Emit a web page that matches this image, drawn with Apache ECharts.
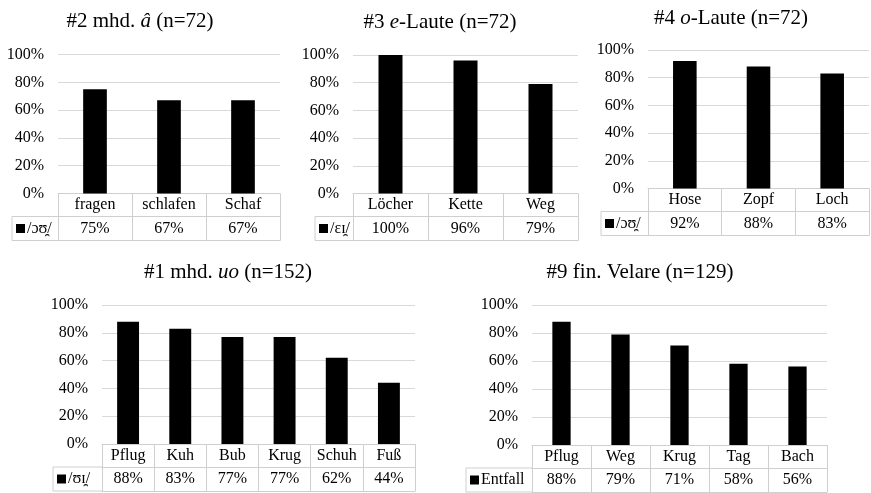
<!DOCTYPE html>
<html>
<head>
<meta charset="utf-8">
<script src="https://cdn.jsdelivr.net/npm/echarts@6/dist/echarts.min.js"></script>
<style>
html,body{margin:0;padding:0;background:#fff;}
#c{width:871px;height:493px;}
</style>
</head>
<body>
<div id="c"></div>
<script>
// ---- data ----
const titles = [
  '#2 mhd. {i|â} (n=72)',
  '#3 {i|e}-Laute (n=72)',
  '#4 {i|o}-Laute (n=72)',
  '#1 mhd. {i|uo} (n=152)',
  '#9 fin. Velare (n=129)'
];
const seriesNames = ['/ɔʊ̯/', '/ɛɪ̯/', '/ɔʊ̯/', '/ʊɪ̯/', 'Entfall'];
const cats2 = ['fragen', 'schlafen', 'Schaf'];
const vals2 = [0.75, 0.67, 0.67];
const cats3 = ['Löcher', 'Kette', 'Weg'];
const vals3 = [1.00, 0.96, 0.79];
const cats4 = ['Hose', 'Zopf', 'Loch'];
const vals4 = [0.92, 0.88, 0.83];
const cats1 = ['Pflug', 'Kuh', 'Bub', 'Krug', 'Schuh', 'Fuß'];
const vals1 = [0.88, 0.83, 0.77, 0.77, 0.62, 0.44];
const cats9 = ['Pflug', 'Weg', 'Krug', 'Tag', 'Bach'];
const vals9 = [0.88, 0.79, 0.71, 0.58, 0.56];
const yTicks = [0, 0.2, 0.4, 0.6, 0.8, 1.0];

const allCats = [cats2, cats3, cats4, cats1, cats9];
const allVals = [vals2, vals3, vals4, vals1, vals9];

// ---- layout (pixels) ----
const layout = [
  {x0: 58,  x1: 280, yT: 54.5, y0: 193.5, lgL: 12,  tx: 140, ty: 21, bw: '32%'},
  {x0: 353, x1: 578, yT: 55,   y0: 193.5, lgL: 315, tx: 440, ty: 22, bw: '32%'},
  {x0: 648, x1: 869, yT: 50,   y0: 188.5, lgL: 601, tx: 731, ty: 18, bw: '32%'},
  {x0: 102, x1: 415, yT: 305,  y0: 444,   lgL: 53,  tx: 228, ty: 272, bw: '42%'},
  {x0: 532, x1: 827, yT: 305,  y0: 445,   lgL: 466, tx: 640, ty: 272, bw: '31%'}
];
const ROW1 = 23, ROW2 = 24;
const FONT = '"Liberation Serif", "Times New Roman", "DejaVu Serif", serif';
const BORDER = '#cfcfcf';
const GRIDC = '#d9d9d9';
const pct = v => Math.round(v * 100) + '%';

const grid = [], xAxis = [], yAxis = [], series = [], graphic = [];
layout.forEach((L, i) => {
  grid.push({left: L.x0, top: L.yT, width: L.x1 - L.x0, height: L.y0 - L.yT, containLabel: false});
  // category row
  xAxis.push({
    gridIndex: i, type: 'category', data: allCats[i], position: 'bottom',
    axisLine: {show: true, lineStyle: {color: BORDER, width: 1}},
    axisTick: {show: true, inside: false, length: ROW1 + ROW2, interval: 0, lineStyle: {color: BORDER, width: 1}},
    axisLabel: {interval: 0, margin: ROW1 / 2, verticalAlign: 'middle', fontFamily: FONT, fontSize: 16, color: '#000'},
    splitLine: {show: false}
  });
  // value row
  xAxis.push({
    gridIndex: i, type: 'category', data: allVals[i].map(pct), position: 'bottom', offset: ROW1,
    axisLine: {show: true, lineStyle: {color: BORDER, width: 1}},
    axisTick: {show: false},
    axisLabel: {interval: 0, margin: ROW2 / 2, verticalAlign: 'middle', fontFamily: FONT, fontSize: 16, color: '#000'},
    splitLine: {show: false}
  });
  // bottom border
  xAxis.push({
    gridIndex: i, type: 'category', data: allCats[i], position: 'bottom', offset: ROW1 + ROW2,
    axisLine: {show: true, lineStyle: {color: BORDER, width: 1}},
    axisTick: {show: false}, axisLabel: {show: false}, splitLine: {show: false}
  });
  yAxis.push({
    gridIndex: i, type: 'value', min: yTicks[0], max: yTicks[yTicks.length - 1], interval: 0.2,
    axisLine: {show: false}, axisTick: {show: false},
    axisLabel: {formatter: pct, margin: 14, fontFamily: FONT, fontSize: 16, color: '#000'},
    splitLine: {show: true, lineStyle: {color: GRIDC, width: 1}}
  });
  series.push({
    type: 'bar', name: seriesNames[i], xAxisIndex: 3 * i, yAxisIndex: i,
    data: allVals[i], barWidth: L.bw, itemStyle: {color: '#000'}, animation: false
  });
  // title
  graphic.push({
    type: 'text', x: L.tx, y: L.ty, silent: true,
    style: {
      text: titles[i], align: 'center', verticalAlign: 'middle',
      fontFamily: FONT, fontSize: 21, fill: '#000',
      rich: {i: {fontFamily: FONT, fontSize: 21, fontStyle: 'italic', fill: '#000'}}
    }
  });
  // legend cell borders
  const r1 = L.y0 + ROW1, r2 = L.y0 + ROW1 + ROW2;
  graphic.push({type: 'line', silent: true, shape: {x1: L.lgL, y1: r1, x2: L.x0, y2: r1}, style: {stroke: BORDER, lineWidth: 1}});
  graphic.push({type: 'line', silent: true, shape: {x1: L.lgL, y1: r2, x2: L.x0, y2: r2}, style: {stroke: BORDER, lineWidth: 1}});
  graphic.push({type: 'line', silent: true, shape: {x1: L.lgL, y1: r1, x2: L.lgL, y2: r2}, style: {stroke: BORDER, lineWidth: 1}});
  // legend key + text
  const cy = (r1 + r2) / 2;
  graphic.push({type: 'rect', silent: true, shape: {x: L.lgL + 4, y: cy - 4.5, width: 9, height: 9}, style: {fill: '#000'}});
  graphic.push({
    type: 'text', silent: true, x: L.lgL + 15, y: cy,
    style: {text: seriesNames[i], align: 'left', verticalAlign: 'middle', fontFamily: FONT, fontSize: 16, fill: '#000'}
  });
});

const chart = echarts.init(document.getElementById('c'));
chart.setOption({
  animation: false,
  backgroundColor: '#fff',
  grid, xAxis, yAxis, series, graphic
});
</script>
</body>
</html>
